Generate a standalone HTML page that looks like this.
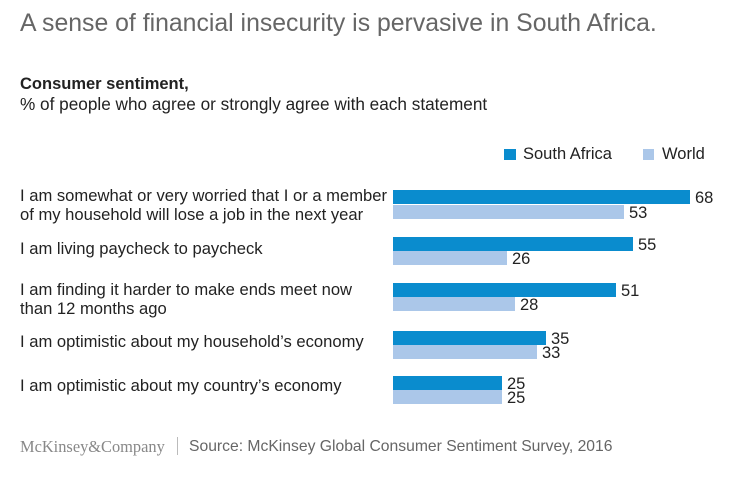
<!DOCTYPE html>
<html><head><style>
body{margin:0;width:733px;height:486px;background:#fff;font-family:"Liberation Sans",sans-serif;color:#333;position:relative;overflow:hidden}
.a{position:absolute;white-space:nowrap}
.sa{position:absolute;background:#0a8cce;height:14px;left:393px}
.w{position:absolute;background:#abc7e9;height:14px;left:393px}
.l{position:absolute;font-size:16.6px;line-height:19px;color:#222;left:20px;white-space:nowrap}
.v{position:absolute;font-size:16.5px;color:#222;line-height:14px}
</style></head><body>
<div class="a" style="left:20px;top:10px;font-size:24.8px;color:#666">A sense of financial insecurity is pervasive in South Africa.</div>
<div class="a" style="left:20px;top:75px;font-size:16.5px;font-weight:bold;color:#222">Consumer sentiment,</div>
<div class="a" style="left:20px;top:94px;font-size:17.2px;color:#222">% of people who agree or strongly agree with each statement</div>
<div class="a" style="left:504px;top:149px;width:12px;height:11px;background:#0a8cce"></div>
<div class="a" style="left:523px;top:145px;font-size:16.5px;color:#222">South Africa</div>
<div class="a" style="left:643px;top:149px;width:11px;height:11px;background:#abc7e9"></div>
<div class="a" style="left:662px;top:145px;font-size:16.5px;color:#222">World</div>

<div class="l" style="top:186px">I am somewhat or very worried that I or a member<br>of my household will lose a job in the next year</div>
<div class="l" style="top:239px">I am living paycheck to paycheck</div>
<div class="l" style="top:280px">I am finding it harder to make ends meet now<br>than 12 months ago</div>
<div class="l" style="top:332px">I am optimistic about my household’s economy</div>
<div class="l" style="top:376px">I am optimistic about my country’s economy</div>

<div class="sa" style="top:190px;width:297px"></div><div class="v" style="left:695px;top:191px">68</div>
<div class="w" style="top:205px;width:231px"></div><div class="v" style="left:629px;top:206px">53</div>
<div class="sa" style="top:237px;width:240px"></div><div class="v" style="left:638px;top:238px">55</div>
<div class="w" style="top:251px;width:114px"></div><div class="v" style="left:512px;top:252px">26</div>
<div class="sa" style="top:283px;width:223px"></div><div class="v" style="left:621px;top:284px">51</div>
<div class="w" style="top:297px;width:122px"></div><div class="v" style="left:520px;top:298px">28</div>
<div class="sa" style="top:331px;width:153px"></div><div class="v" style="left:551px;top:332px">35</div>
<div class="w" style="top:345px;width:144px"></div><div class="v" style="left:542px;top:346px">33</div>
<div class="sa" style="top:376px;width:109px"></div><div class="v" style="left:507px;top:377px">25</div>
<div class="w" style="top:390px;width:109px"></div><div class="v" style="left:507px;top:391px">25</div>

<div class="a" style="left:20px;top:437px;font-family:'Liberation Serif',serif;font-size:16.4px;color:#888">McKinsey&amp;Company</div>
<div class="a" style="left:177px;top:437px;width:1px;height:18px;background:#bbb"></div>
<div class="a" style="left:189px;top:438px;font-size:15.7px;color:#666">Source: McKinsey Global Consumer Sentiment Survey, 2016</div>
</body></html>
